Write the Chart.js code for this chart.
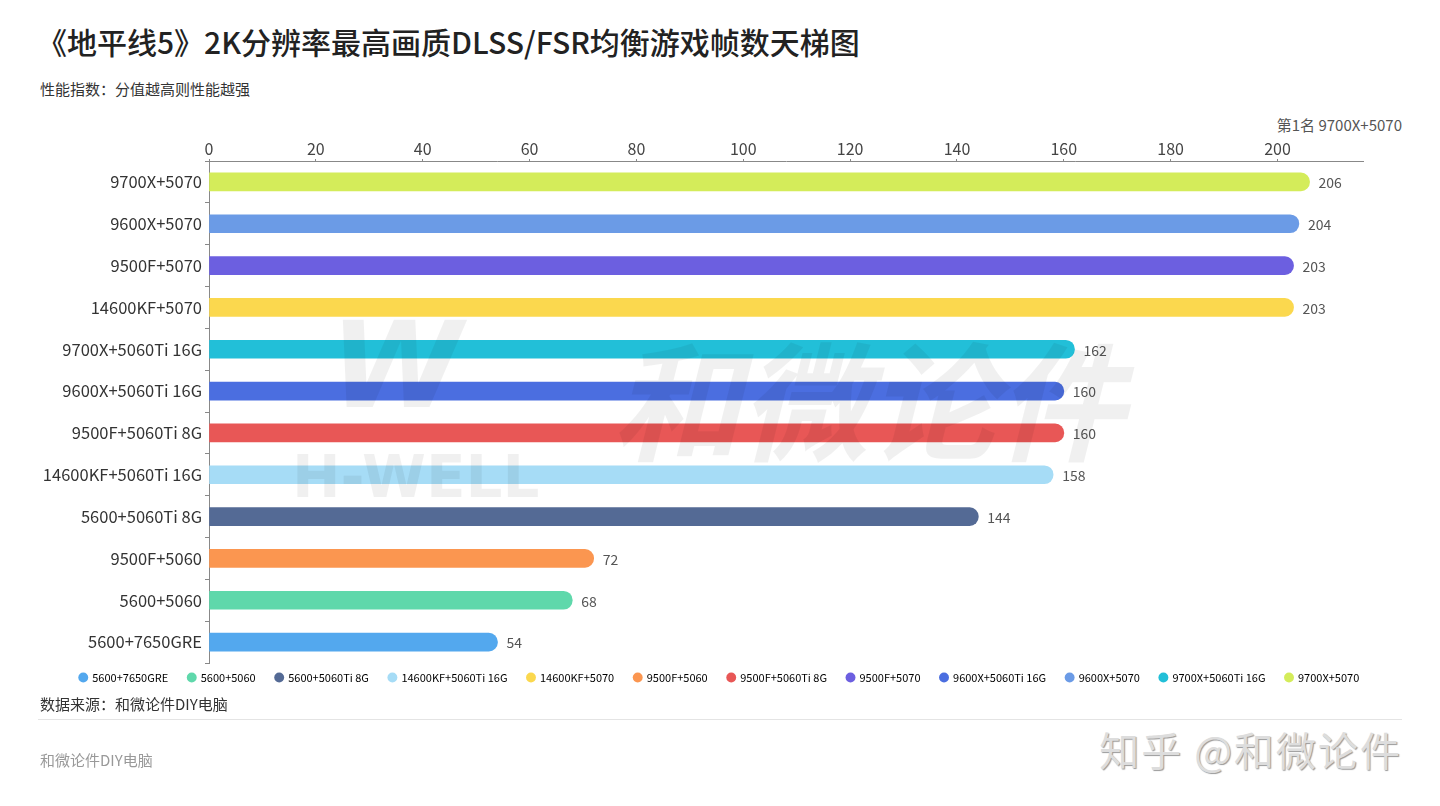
<!DOCTYPE html>
<html>
<head>
<meta charset="utf-8">
<script src="https://cdn.jsdelivr.net/npm/chart.js@4.4.0/dist/chart.umd.min.js"></script>
<style>
  html, body { margin: 0; padding: 0; background: #fff; }
  body { width: 1440px; height: 806px; position: relative; overflow: hidden;
         font-family: "Noto Sans CJK SC", "Noto Sans", sans-serif; }
  #title { position: absolute; left: 37px; top: 19px; font-size: 30px; color: #222; font-weight: 500; white-space: nowrap; }
  #sub { position: absolute; left: 40px; top: 78px; font-size: 15px; color: #333; }
  #rank { position: absolute; right: 38px; top: 114px; font-size: 15px; color: #555; }
  #wrap { position: absolute; left: 0; top: 120px; width: 1440px; height: 588px; }
  #src { position: absolute; left: 40px; top: 693px; font-size: 15px; color: #333; }
  #rule { position: absolute; left: 38px; width: 1364px; top: 719px; height: 1px; background: #e4e4e4; }
  #foot { position: absolute; left: 40px; top: 749px; font-size: 15px; color: #999; }
  #zhihu { position: absolute; right: 38px; top: 720px; font-size: 40px; color: #ddd;
           text-shadow: 1px 1px 1px #999; letter-spacing: 2px; }
</style>
</head>
<body>
<div id="title">《地平线5》2K分辨率最高画质DLSS/FSR均衡游戏帧数天梯图</div>
<div id="sub">性能指数：分值越高则性能越强</div>
<div id="rank">第1名 9700X+5070</div>
<div id="wrap"><canvas id="chart"></canvas></div>
<div id="src">数据来源：和微论件DIY电脑</div>
<div id="rule"></div>
<div id="foot">和微论件DIY电脑</div>
<div id="zhihu">知乎 @和微论件</div>
<script>
// top to bottom
const configs = ['9700X+5070', '9600X+5070', '9500F+5070', '14600KF+5070',
  '9700X+5060Ti 16G', '9600X+5060Ti 16G', '9500F+5060Ti 8G', '14600KF+5060Ti 16G',
  '5600+5060Ti 8G', '9500F+5060', '5600+5060', '5600+7650GRE'];
const fps = [206, 204, 203, 203, 162, 160, 160, 158, 144, 72, 68, 54];
const barColors = ['#d4ec5a', '#6b9be6', '#6c5fe0', '#fbd84e',
  '#22bfd8', '#4b6ee0', '#e85756', '#a6dcf6',
  '#546a95', '#fb9650', '#5fd8ab', '#53a8ee'];
const xTicks = [0, 20, 40, 60, 80, 100, 120, 140, 160, 180, 200];
// legend order as in the original
const legendOrder = ['5600+7650GRE', '5600+5060', '5600+5060Ti 8G', '14600KF+5060Ti 16G',
  '14600KF+5070', '9500F+5060', '9500F+5060Ti 8G', '9500F+5070',
  '9600X+5060Ti 16G', '9600X+5070', '9700X+5060Ti 16G', '9700X+5070'];

const fontFamily = '"Noto Sans CJK SC", "Noto Sans", sans-serif';

// numbers at the end of each bar
const valueLabels = {
  id: 'valueLabels',
  afterDatasetsDraw(chart) {
    const ctx = chart.ctx;
    const meta = chart.getDatasetMeta(0);
    ctx.save();
    ctx.font = '14px ' + fontFamily;
    ctx.fillStyle = '#555';
    ctx.textBaseline = 'middle';
    meta.data.forEach((bar, i) => {
      ctx.fillText(fps[i], bar.x + 9, bar.y + 1);
    });
    ctx.restore();
  }
};

// pull the legend up closer to the plot and centre it on the page
const legendNudge = {
  id: 'legendNudge',
  afterLayout(chart) {
    const lg = chart.legend;
    lg.top -= 11;
    lg.bottom -= 11;
    lg.left += 38;
    lg.right += 38;
  }
};

// faint watermark over the plot
const watermark = {
  id: 'watermark',
  afterDraw(chart) {
    const ctx = chart.ctx;
    ctx.save();
    ctx.fillStyle = 'rgba(0,0,0,0.06)';
    ctx.font = 'bold italic 128px ' + fontFamily;
    ctx.textBaseline = 'middle';
    ctx.fillText('和微论件', 612, 282);
    ctx.font = 'bold 58px "DejaVu Sans", sans-serif';
    ctx.fillText('H-WELL', 292, 362);
    ctx.font = 'bold italic 120px "DejaVu Sans", sans-serif';
    ctx.fillText('W', 330, 256);
    ctx.restore();
  }
};

new Chart(document.getElementById('chart'), {
  type: 'bar',
  data: {
    labels: configs,
    datasets: [{
      label: '帧数',
      data: fps,
      backgroundColor: barColors,
      barThickness: 18,
      borderRadius: 9,
      borderSkipped: 'start'
    }]
  },
  options: {
    indexAxis: 'y',
    responsive: true,
    maintainAspectRatio: false,
    animation: false,
    layout: { padding: { left: 0, right: 77, top: 0, bottom: 4 } },
    scales: {
      x: {
        position: 'top',
        min: 0,
        max: 216,
        afterBuildTicks(scale) {
          scale.ticks = xTicks.map(v => ({ value: v }));
        },
        afterFit(scale) { scale.height = 41; },
        grid: { drawOnChartArea: false, color: '#888', tickLength: 2 },
        border: { color: '#888' },
        ticks: { color: '#444', padding: 0, font: { size: 16, family: fontFamily } }
      },
      y: {
        afterFit(scale) { scale.width = 209; },
        grid: { drawOnChartArea: false, color: '#888', tickLength: 4 },
        border: { color: '#888' },
        ticks: { color: '#333', padding: 3, font: { size: 16.5, family: fontFamily } }
      }
    },
    plugins: {
      legend: {
        position: 'bottom',
        labels: {
          usePointStyle: true,
          pointStyle: 'circle',
          boxWidth: 7,
          boxHeight: 7,
          padding: 20,
          color: '#555',
          font: { size: 11, family: fontFamily },
          generateLabels() {
            return legendOrder.map(name => {
              const i = configs.indexOf(name);
              return {
                text: name,
                fillStyle: barColors[i],
                strokeStyle: barColors[i],
                lineWidth: 0,
                pointStyle: 'circle',
                hidden: false,
                index: i
              };
            });
          }
        }
      },
      tooltip: { enabled: false }
    }
  },
  plugins: [valueLabels, legendNudge, watermark]
});
</script>
</body>
</html>
